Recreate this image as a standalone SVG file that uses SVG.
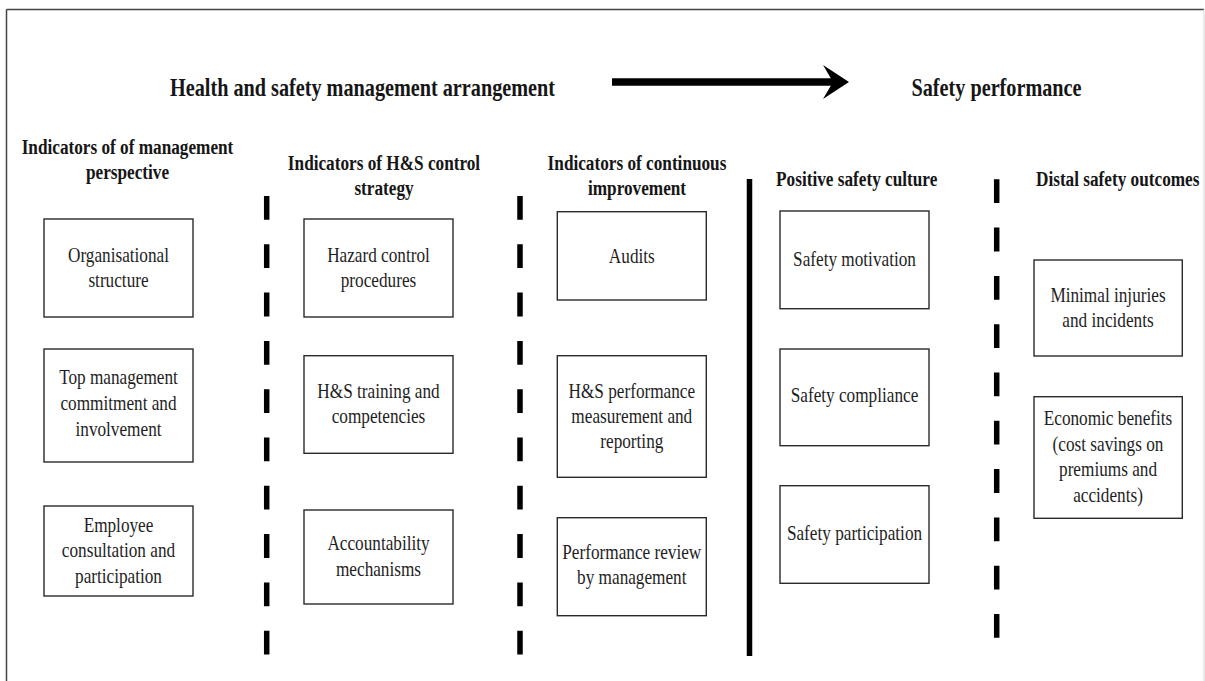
<svg xmlns="http://www.w3.org/2000/svg" width="1205" height="681" viewBox="0 0 1205 681">
<style>
text{font-family:"Liberation Serif","Times New Roman",serif;fill:#161616;text-anchor:middle}
.t{font-size:25.6px;font-weight:bold}
.h{font-size:21.8px;font-weight:bold}
.n{font-size:21.8px;fill:#1e1e1e}
.box{fill:#fff;stroke:#2a2a2a;stroke-width:1.4}
.dash{stroke:#000;stroke-width:5.5;fill:none;stroke-dasharray:23.8 24.5}
</style>
<rect width="1205" height="681" fill="#fff"/>
<g id="frame">
<line x1="6.5" y1="9.5" x2="6.5" y2="681" stroke="#444" stroke-width="1.5"/>
<line x1="6.5" y1="9.5" x2="1204" y2="9.5" stroke="#444" stroke-width="1.5"/>
<line x1="1204" y1="9.5" x2="1204" y2="681" stroke="#ddd" stroke-width="1.2"/>
</g>
<g id="titles">
<text class="t" transform="translate(362.5,0) scale(0.79,1)" y="96">Health and safety management arrangement</text>
<text class="t" transform="translate(996.5,0) scale(0.79,1)" y="96">Safety performance</text>
</g>
<g id="connectors">
<line x1="612" y1="82" x2="836" y2="82" stroke="#000" stroke-width="7.5"/>
<polygon points="823,65 849,82 823,99 833,82" fill="#000"/>
</g>
<g id="dividers">
<line class="dash" x1="266.7" y1="196" x2="266.7" y2="656"/>
<line class="dash" x1="520" y1="196" x2="520" y2="656"/>
<line x1="749.5" y1="179" x2="749.5" y2="656" stroke="#000" stroke-width="5.5"/>
<line class="dash" x1="996.7" y1="179.3" x2="996.7" y2="639.5"/>
</g>
<g id="headers">
<text class="h" transform="translate(127.5,0) scale(0.79,1)"><tspan x="0" y="154.5">Indicators of of management</tspan><tspan x="0" y="179.5">perspective</tspan></text>
<text class="h" transform="translate(384,0) scale(0.79,1)"><tspan x="0" y="170.5">Indicators of H&amp;S control</tspan><tspan x="0" y="195.5">strategy</tspan></text>
<text class="h" transform="translate(637,0) scale(0.79,1)"><tspan x="0" y="170.5">Indicators of continuous</tspan><tspan x="0" y="195.5">improvement</tspan></text>
<text class="h" transform="translate(856.7,0) scale(0.79,1)" y="186.5">Positive safety culture</text>
<text class="h" transform="translate(1117.7,0) scale(0.79,1)" y="186">Distal safety outcomes</text>
</g>
<g id="organisational-structure">
<rect class="box" x="44" y="219" width="149" height="98"/>
<text class="n" transform="translate(118.5,0) scale(0.79,1)"><tspan x="0" y="261.7">Organisational</tspan><tspan x="0" y="287.3">structure</tspan></text>
</g>
<g id="top-management">
<rect class="box" x="44" y="349" width="149" height="113"/>
<text class="n" transform="translate(118.5,0) scale(0.79,1)"><tspan x="0" y="384.5">Top management</tspan><tspan x="0" y="410">commitment and</tspan><tspan x="0" y="435.7">involvement</tspan></text>
</g>
<g id="employee-consultation">
<rect class="box" x="44" y="506" width="149" height="90"/>
<text class="n" transform="translate(118.5,0) scale(0.79,1)"><tspan x="0" y="531.7">Employee</tspan><tspan x="0" y="557.3">consultation and</tspan><tspan x="0" y="582.7">participation</tspan></text>
</g>
<g id="hazard-control">
<rect class="box" x="304" y="219" width="149" height="98"/>
<text class="n" transform="translate(378.5,0) scale(0.79,1)"><tspan x="0" y="261.7">Hazard control</tspan><tspan x="0" y="287.3">procedures</tspan></text>
</g>
<g id="hs-training">
<rect class="box" x="304" y="355.7" width="149" height="97.6"/>
<text class="n" transform="translate(378.5,0) scale(0.79,1)"><tspan x="0" y="398.3">H&amp;S training and</tspan><tspan x="0" y="423.3">competencies</tspan></text>
</g>
<g id="accountability">
<rect class="box" x="304" y="510" width="149" height="94"/>
<text class="n" transform="translate(378.5,0) scale(0.79,1)"><tspan x="0" y="550">Accountability</tspan><tspan x="0" y="575.7">mechanisms</tspan></text>
</g>
<g id="audits">
<rect class="box" x="557.3" y="211.7" width="149" height="88.3"/>
<text class="n" transform="translate(631.8,0) scale(0.79,1)" y="262.7">Audits</text>
</g>
<g id="hs-performance">
<rect class="box" x="557.3" y="355.7" width="149" height="121.6"/>
<text class="n" transform="translate(631.8,0) scale(0.79,1)"><tspan x="0" y="398.3">H&amp;S performance</tspan><tspan x="0" y="423.3">measurement and</tspan><tspan x="0" y="448.3">reporting</tspan></text>
</g>
<g id="performance-review">
<rect class="box" x="557.3" y="517.7" width="149" height="98"/>
<text class="n" transform="translate(631.8,0) scale(0.79,1)"><tspan x="0" y="559">Performance review</tspan><tspan x="0" y="584">by management</tspan></text>
</g>
<g id="safety-motivation">
<rect class="box" x="780" y="211" width="149" height="97.7"/>
<text class="n" transform="translate(854.5,0) scale(0.79,1)" y="265.7">Safety motivation</text>
</g>
<g id="safety-compliance">
<rect class="box" x="780" y="349" width="149" height="96.7"/>
<text class="n" transform="translate(854.5,0) scale(0.79,1)" y="402.3">Safety compliance</text>
</g>
<g id="safety-participation">
<rect class="box" x="780" y="485.7" width="149" height="97.6"/>
<text class="n" transform="translate(854.5,0) scale(0.79,1)" y="540">Safety participation</text>
</g>
<g id="minimal-injuries">
<rect class="box" x="1034" y="260" width="148.3" height="96"/>
<text class="n" transform="translate(1108,0) scale(0.79,1)"><tspan x="0" y="301.7">Minimal injuries</tspan><tspan x="0" y="326.7">and incidents</tspan></text>
</g>
<g id="economic-benefits">
<rect class="box" x="1034" y="396.7" width="148.3" height="121.6"/>
<text class="n" transform="translate(1108,0) scale(0.79,1)"><tspan x="0" y="425">Economic benefits</tspan><tspan x="0" y="450.7">(cost savings on</tspan><tspan x="0" y="476">premiums and</tspan><tspan x="0" y="501.7">accidents)</tspan></text>
</g>
</svg>
